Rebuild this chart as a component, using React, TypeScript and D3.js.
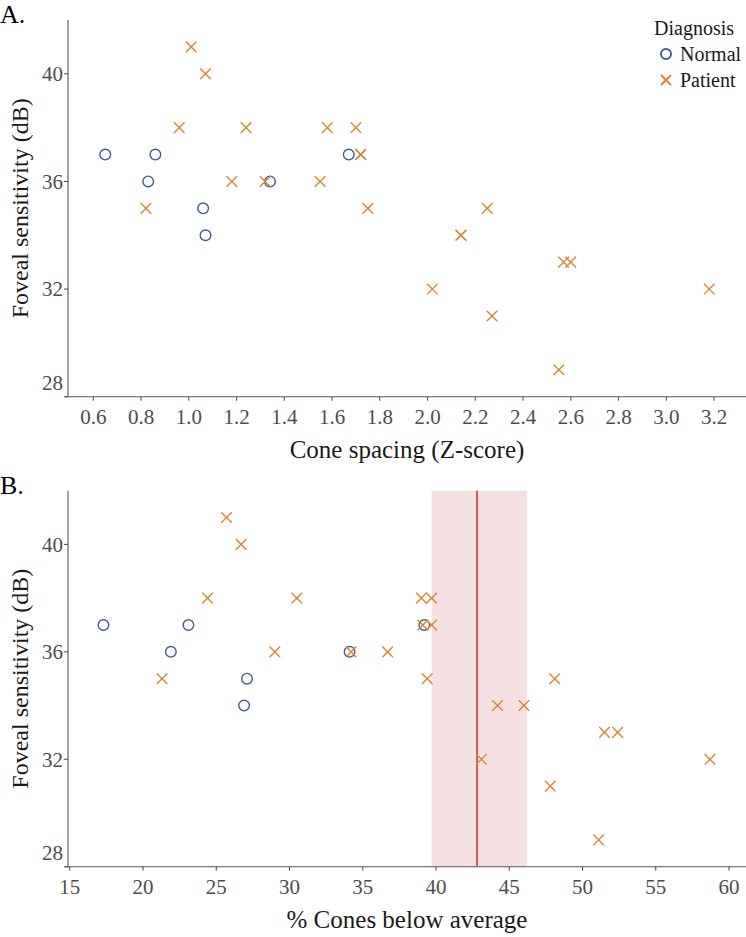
import React from 'react';
import { scaleLinear } from 'd3';

// Normal subjects
const normalSpacing = [0.65, 0.86, 1.67, 0.83, 1.34, 1.06, 1.07];
const normalConesBelow = [17.3, 23.1, 39.2, 21.9, 34.1, 27.1, 26.9];
const normalSensitivity = [37, 37, 37, 36, 36, 35, 34];

// Patients
const patientSpacing = [1.01, 1.07, 0.96, 1.24, 1.58, 1.7, 1.72, 1.72, 1.18, 1.32, 1.55, 0.82, 1.75, 2.25, 2.14, 2.14, 2.57, 2.6, 2.02, 3.18, 2.27, 2.55];
const patientConesBelow = [25.7, 26.7, 24.4, 30.5, 39.0, 39.7, 39.1, 39.7, 29.0, 34.2, 36.7, 21.3, 39.4, 48.1, 44.2, 46.0, 51.5, 52.4, 43.1, 58.7, 47.8, 51.1];
const patientSensitivity = [41, 40, 38, 38, 38, 38, 37, 37, 36, 36, 36, 35, 35, 35, 34, 34, 33, 33, 32, 32, 31, 29];

// reference: mean % cones below average and its interval
const refMean = 42.8;
const refBand = [39.7, 46.2];

const yTicks = [28, 32, 36, 40];
const xTicksA = [0.6, 0.8, 1.0, 1.2, 1.4, 1.6, 1.8, 2.0, 2.2, 2.4, 2.6, 2.8, 3.0, 3.2];
const xTicksB = [15, 20, 25, 30, 35, 40, 45, 50, 55, 60];

const W = 746;
const H = 937;
const FONT = '"Liberation Serif", "DejaVu Serif", serif';
const BLUE = '#3E5C97';
const ORANGE = '#D9862F';
const TICK_COL = '#4D4D4D';
const AXIS_COL = '#555';

const left = 68;
const right = 746;

const Cross = ({ x, y, s = 5.3, w = 1.4 }: { x: number; y: number; s?: number; w?: number }) => (
    <path
        d={`M${x - s},${y - s}L${x + s},${y + s}M${x - s},${y + s}L${x + s},${y - s}`}
        stroke={ORANGE}
        strokeWidth={w}
        fill="none"
    />
);

const Ring = ({ x, y }: { x: number; y: number }) => (
    <circle cx={x} cy={y} r={5.3} fill="none" stroke={BLUE} strokeWidth={1.4} />
);

type PanelProps = {
    top: number;
    bottom: number;
    label: string;
    xDomain: [number, number];
    xTicks: number[];
    fmt: (v: number) => string;
    xTitle: string;
    normalX: number[];
    patientX: number[];
    reference?: boolean;
};

const Panel = ({ top, bottom, label, xDomain, xTicks, fmt, xTitle, normalX, patientX, reference }: PanelProps) => {
    const x = scaleLinear().domain(xDomain).range([left, right]);
    const y = scaleLinear().domain([28, 42]).range([bottom, top]);
    const midY = (top + bottom) / 2;

    return (
        <g>
            <text x={0} y={top + 3} fontSize={26} fontFamily={FONT} fill="#000">{label}</text>

            {reference && (
                <g>
                    <rect x={x(refBand[0])} y={top} width={x(refBand[1]) - x(refBand[0])} height={bottom - top} fill="#F6E1E2" />
                    <line x1={x(refMean)} x2={x(refMean)} y1={top} y2={bottom} stroke="#C0141C" strokeWidth={1.3} />
                </g>
            )}

            {/* y axis */}
            <line x1={left} x2={left} y1={top} y2={bottom} stroke={AXIS_COL} strokeWidth={1.1} />
            {yTicks.map((t, i) => (
                <g key={t}>
                    <line x1={left - 4} x2={left} y1={y(t)} y2={y(t)} stroke={AXIS_COL} strokeWidth={1.1} />
                    <text
                        x={left - 5}
                        y={y(t) - (i === 0 ? 14 : 0)}
                        dy="0.35em"
                        textAnchor="end"
                        fontSize={21}
                        fontFamily={FONT}
                        fill={TICK_COL}
                    >
                        {t}
                    </text>
                </g>
            ))}
            <text
                transform={`translate(28,${midY}) rotate(-90)`}
                textAnchor="middle"
                fontSize={24}
                fontFamily={FONT}
                fill="#1a1a1a"
            >
                Foveal sensitivity (dB)
            </text>

            {/* x axis */}
            <line x1={left - 3} x2={right} y1={bottom} y2={bottom} stroke={AXIS_COL} strokeWidth={1.1} />
            {xTicks.map((t) => (
                <g key={t}>
                    <line x1={x(t)} x2={x(t)} y1={bottom} y2={bottom + 4} stroke={AXIS_COL} strokeWidth={1.1} />
                    <text x={x(t)} y={bottom + 27} textAnchor="middle" fontSize={21} fontFamily={FONT} fill={TICK_COL}>
                        {fmt(t)}
                    </text>
                </g>
            ))}
            <text x={(left + right) / 2} y={bottom + 61} textAnchor="middle" fontSize={25} fontFamily={FONT} fill="#1a1a1a">
                {xTitle}
            </text>

            {/* points */}
            {normalX.map((v, i) => (
                <Ring key={'n' + i} x={x(v)} y={y(normalSensitivity[i])} />
            ))}
            {patientX.map((v, i) => (
                <Cross key={'p' + i} x={x(v)} y={y(patientSensitivity[i])} />
            ))}
        </g>
    );
};

const App = () => {
    return (
        <svg width={W} height={H} style={{ position: 'absolute', left: 0, top: 0, background: '#fff' }}>
            <Panel
                top={20}
                bottom={396.7}
                label="A."
                xDomain={[0.494, 3.334]}
                xTicks={xTicksA}
                fmt={(v) => v.toFixed(1)}
                xTitle="Cone spacing (Z-score)"
                normalX={normalSpacing}
                patientX={patientSpacing}
            />
            <Panel
                top={490.7}
                bottom={866.7}
                label="B."
                xDomain={[14.88, 61.16]}
                xTicks={xTicksB}
                fmt={(v) => String(v)}
                xTitle="% Cones below average"
                normalX={normalConesBelow}
                patientX={patientConesBelow}
                reference
            />

            {/* legend */}
            <g fontFamily={FONT}>
                <text x={654} y={35} fontSize={20} fill="#1a1a1a">Diagnosis</text>
                <circle cx={666} cy={54} r={5} fill="none" stroke={BLUE} strokeWidth={2} />
                <text x={680} y={61} fontSize={20} fill="#1a1a1a">Normal</text>
                <Cross x={666} y={80} s={5} w={2} />
                <text x={680} y={87} fontSize={20} fill="#1a1a1a">Patient</text>
            </g>
        </svg>
    );
};

export default App;
